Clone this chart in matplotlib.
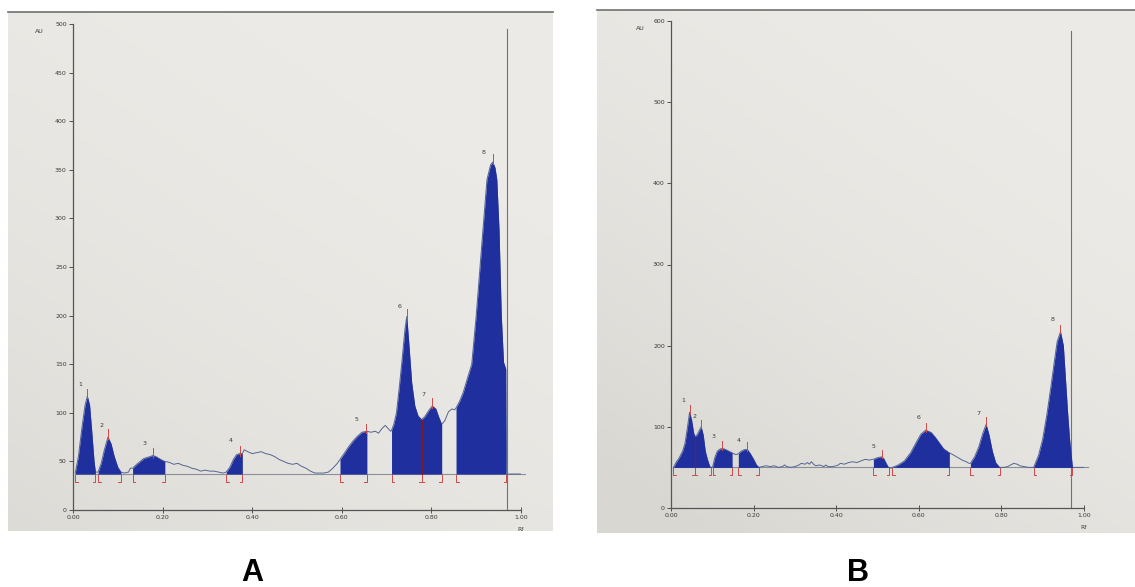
import numpy as np
import matplotlib
matplotlib.use("Agg")
import matplotlib.pyplot as plt
from matplotlib.colors import to_rgb

# ---------------- data: panel A ----------------
a_rf = [0.005, 0.012, 0.020, 0.027, 0.032, 0.037, 0.042, 0.047, 0.050,
        0.056, 0.063, 0.070, 0.078, 0.085, 0.092, 0.100, 0.107,
        0.115, 0.124, 0.128, 0.133, 0.142, 0.150, 0.158, 0.165, 0.172, 0.178,
        0.185, 0.192, 0.200, 0.205,
        0.215, 0.225, 0.235, 0.245, 0.255, 0.265, 0.275, 0.285, 0.295, 0.305,
        0.315, 0.325, 0.335,
        0.342, 0.350, 0.358, 0.365, 0.372, 0.378,
        0.382, 0.390, 0.400, 0.410, 0.420, 0.430, 0.440, 0.450, 0.460, 0.470,
        0.480, 0.490, 0.500, 0.510, 0.520, 0.530, 0.540, 0.550, 0.560, 0.570,
        0.580, 0.590,
        0.596, 0.605, 0.615, 0.625, 0.635, 0.645, 0.656,
        0.665, 0.675, 0.682, 0.690, 0.697, 0.703, 0.709,
        0.711, 0.716, 0.722, 0.728, 0.734, 0.741, 0.745, 0.750, 0.756, 0.763,
        0.770, 0.778,
        0.785, 0.795, 0.802, 0.810, 0.816, 0.823,
        0.830, 0.838, 0.846, 0.852,
        0.855, 0.863, 0.871, 0.882, 0.890, 0.900, 0.915, 0.924, 0.932, 0.937,
        0.942, 0.946, 0.951, 0.956, 0.961, 0.966,
        0.968, 0.980, 1.010]
a_au = [38, 55, 85, 108, 117, 108, 80, 50, 39,
        39, 48, 62, 75, 68, 55, 44, 39,
        38, 39, 43, 43, 47, 50, 53, 54, 55, 56,
        55, 53, 51, 50,
        49, 47, 48, 46, 45, 43, 42, 40, 41, 40,
        40, 39, 38,
        39, 44, 52, 57, 58, 58,
        62, 60, 58, 59, 60, 58, 57, 55, 52, 50,
        48, 47, 48, 45, 43, 40, 38, 38, 38, 39,
        43, 48,
        52, 58, 65, 71, 76, 80, 81,
        80, 81, 79, 84, 87, 84, 81,
        82, 88, 100, 125, 152, 186, 199, 169, 131, 107,
        97, 93,
        96, 103, 107, 104, 96, 88,
        92, 101, 104, 103,
        105, 112, 121, 138, 150, 200, 288, 340, 355, 358,
        352, 340, 288, 200, 152, 145,
        37, 37, 37]
a_base = 37
a_start = [0.005, 0.056, 0.133, 0.342, 0.596, 0.711, 0.778, 0.855]
a_end = [0.050, 0.107, 0.205, 0.378, 0.656, 0.778, 0.823, 0.967]
a_top = [0.032, 0.078, 0.178, 0.372, 0.654, 0.745, 0.802, 0.937]
a_labels = ["1", "2", "3", "4", "5", "6", "7", "8"]
a_label_rf = [0.017, 0.064, 0.160, 0.352, 0.632, 0.728, 0.783, 0.917]
a_label_au = [129, 87, 68, 71, 93, 209, 119, 368]

# ---------------- data: panel B ----------------
b_rf = [0.006, 0.012, 0.020, 0.028, 0.034, 0.040, 0.045, 0.050, 0.055, 0.058,
        0.063, 0.068, 0.073, 0.078, 0.083, 0.088, 0.094, 0.098,
        0.101, 0.106, 0.112, 0.120, 0.128, 0.136, 0.144, 0.148,
        0.155, 0.160,
        0.163, 0.170, 0.178, 0.185, 0.192, 0.200, 0.207, 0.213,
        0.220, 0.230, 0.240, 0.250, 0.260, 0.270, 0.275, 0.280, 0.290, 0.300,
        0.310, 0.315, 0.325, 0.330, 0.335, 0.340, 0.345, 0.350, 0.360, 0.370,
        0.375, 0.380, 0.390, 0.400, 0.405, 0.410, 0.420, 0.430, 0.440, 0.450,
        0.460, 0.470, 0.480, 0.488,
        0.490, 0.500, 0.510, 0.515, 0.520, 0.525, 0.528,
        0.532,
        0.536, 0.550, 0.565, 0.580, 0.595, 0.605, 0.617, 0.630, 0.640, 0.650,
        0.660, 0.674,
        0.685, 0.695, 0.705, 0.715, 0.722,
        0.725, 0.735, 0.745, 0.755, 0.763, 0.770, 0.778, 0.786, 0.794, 0.797,
        0.805, 0.815, 0.822, 0.830, 0.838, 0.845, 0.855, 0.865, 0.875,
        0.878, 0.890, 0.900, 0.910, 0.920, 0.928, 0.935, 0.943, 0.950, 0.955,
        0.960, 0.965, 0.970, 0.972,
        0.980, 1.010]
b_au = [50, 56, 62, 70, 80, 100, 118, 108, 92, 88,
        90, 95, 100, 90, 70, 60, 51, 50,
        51, 62, 70, 73, 73, 71, 69, 68,
        66, 66,
        67, 70, 72, 72, 67, 60, 53, 50,
        51, 52, 51, 52, 50, 51, 53, 51, 50, 51,
        53, 55, 54, 56, 54, 57, 54, 52, 53, 51,
        53, 51, 51, 52, 53, 55, 54, 56, 57, 56,
        58, 60, 59, 60,
        60, 62, 63, 61, 56, 51, 50,
        49,
        50, 53, 58, 68, 82, 91, 96, 93, 87, 80,
        73, 68,
        65, 62, 59, 57, 55,
        55, 63, 75, 92, 103, 90, 70, 56, 51, 50,
        50, 51, 53, 55, 54, 52, 51, 50, 50,
        50, 65, 85, 115, 150, 180, 205, 217, 200, 160,
        120, 85, 60, 50,
        50, 50]
b_base = 50
b_start = [0.006, 0.058, 0.101, 0.163, 0.490, 0.536, 0.725, 0.878]
b_end = [0.058, 0.098, 0.148, 0.213, 0.528, 0.674, 0.797, 0.972]
b_top = [0.045, 0.073, 0.124, 0.183, 0.510, 0.617, 0.763, 0.943]
b_labels = ["1", "2", "3", "4", "5", "6", "7", "8"]
b_label_rf = [0.029, 0.057, 0.103, 0.163, 0.490, 0.600, 0.744, 0.923]
b_label_au = [133, 113, 88, 83, 76, 111, 117, 232]

x_ticks = [0.0, 0.2, 0.4, 0.6, 0.8, 1.0]
x_ticklabels = ["0.00", "0.20", "0.40", "0.60", "0.80", "1.00"]

# ---------------- styling ----------------
PAPER_LIGHT = "#ecebe7"
PAPER_DARK = "#d9d7d2"
FILL = "#1f2f9e"
LINE = "#55658f"
RED = "#cc4a4a"
DARKRED = "#7a1f2a"
TXT = "#3a3a3a"

W, H = 1135, 587
fig = plt.figure(figsize=(W / 100, H / 100), dpi=100)
fig.patch.set_facecolor("white")


def paper(x0, y0, x1, y1, shade):
    """Photographed sheet: light at top-right, a little darker bottom-left."""
    ax = fig.add_axes([x0 / W, 1 - y1 / H, (x1 - x0) / W, (y1 - y0) / H],
                      zorder=-5)
    ax.set_axis_off()
    gy, gx = np.mgrid[0:1:60j, 0:1:60j]
    t = np.clip(shade * (gy * 0.7 + (1 - gx) * 0.5) ** 2, 0, 1)
    c0 = np.array(to_rgb(PAPER_LIGHT))
    c1 = np.array(to_rgb(PAPER_DARK))
    img = c0[None, None, :] * (1 - t[..., None]) + c1[None, None, :] * t[..., None]
    ax.imshow(img, aspect="auto", extent=(0, 1, 0, 1), origin="upper",
              interpolation="bilinear")
    ax.plot([0, 1], [1, 1], color="#6f6f6f", lw=1.2, transform=ax.transAxes,
            clip_on=False)
    return ax


paper(8, 12, 553, 531, 0.55)
paper(597, 10, 1135, 533, 0.8)


def make_axes(x0, x1, y0px, ytop_px):
    return fig.add_axes([x0 / W, 1 - y0px / H, (x1 - x0) / W,
                         (y0px - ytop_px) / H])


def draw_panel(ax, rf, au, base, starts, ends, tops, labels, lab_rf, lab_au,
               ymax, ystep, rline_top, shared, mark_len):
    rf = np.asarray(rf)
    au = np.asarray(au, dtype=float)
    ax.set_facecolor("none")
    ax.set_xlim(0, 1.0)
    ax.set_ylim(0, ymax)
    for s in ("top", "right"):
        ax.spines[s].set_visible(False)
    for s in ("left", "bottom"):
        ax.spines[s].set_color("#555555")
        ax.spines[s].set_linewidth(0.9)
    ax.set_xticks(x_ticks)
    ax.set_xticklabels(x_ticklabels)
    ax.set_yticks(np.arange(0, ymax + 1, ystep))
    ax.tick_params(axis="both", labelsize=4.5, colors=TXT, length=3,
                   width=0.6, pad=1.5)
    ax.tick_params(axis="x", direction="inout", length=4)

    ax.plot([0.004, 1.01], [base, base], color="#8a8f99", lw=0.8,
            zorder=2, clip_on=False)
    ax.plot([0.968, 0.968], [0, rline_top], color="#6e737a", lw=0.8, zorder=2)

    ax.plot(rf, au, color=LINE, lw=0.7, zorder=3)

    for s, e in zip(starts, ends):
        m = (rf >= s - 1e-9) & (rf <= e + 1e-9)
        ax.fill_between(rf[m], base, au[m], color=FILL, lw=0, zorder=4)

    for b in shared:
        ax.plot([b, b], [base, np.interp(b, rf, au)], color=DARKRED,
                lw=0.9, zorder=5)

    for t in tops:
        yv = np.interp(t, rf, au)
        ax.plot([t, t], [yv - 2, yv + mark_len], color=RED, lw=0.7, zorder=6)

    d = mark_len
    for s in starts:
        ax.plot([s, s, s + 0.006], [base - 1, base - d, base - d],
                color=RED, lw=0.7, zorder=6, clip_on=False)
    for e in ends:
        ax.plot([e, e, e - 0.006], [base - 1, base - d, base - d],
                color=RED, lw=0.7, zorder=6, clip_on=False)

    for lab, x, y in zip(labels, lab_rf, lab_au):
        ax.text(x, y, lab, fontsize=4.5, color=TXT, ha="center", va="center",
                zorder=7)

    ax.text(-0.075, ymax * 0.985, "AU", fontsize=4.5, color=TXT,
            ha="center", va="center", clip_on=False)
    ax.text(1.0, -ymax * 0.04, "Rf", fontsize=4.5, color=TXT, ha="center",
            va="center", clip_on=False)


axA = make_axes(73, 521, 510, 24)
draw_panel(axA, a_rf, a_au, a_base, a_start, a_end, a_top, a_labels,
           a_label_rf, a_label_au, 500, 50, 495, [0.778], 8)

axB = make_axes(671, 1084, 508, 21)
draw_panel(axB, b_rf, b_au, b_base, b_start, b_end, b_top, b_labels,
           b_label_rf, b_label_au, 600, 100, 588, [0.058], 9)

fig.text(252 / W, 1 - 573 / H, "A", fontsize=22, fontweight="bold",
         family="Liberation Sans", ha="center", va="center", color="black")
fig.text(858 / W, 1 - 573 / H, "B", fontsize=22, fontweight="bold",
         family="Liberation Sans", ha="center", va="center", color="black")

fig.savefig("out.png", dpi=100, facecolor="white")
